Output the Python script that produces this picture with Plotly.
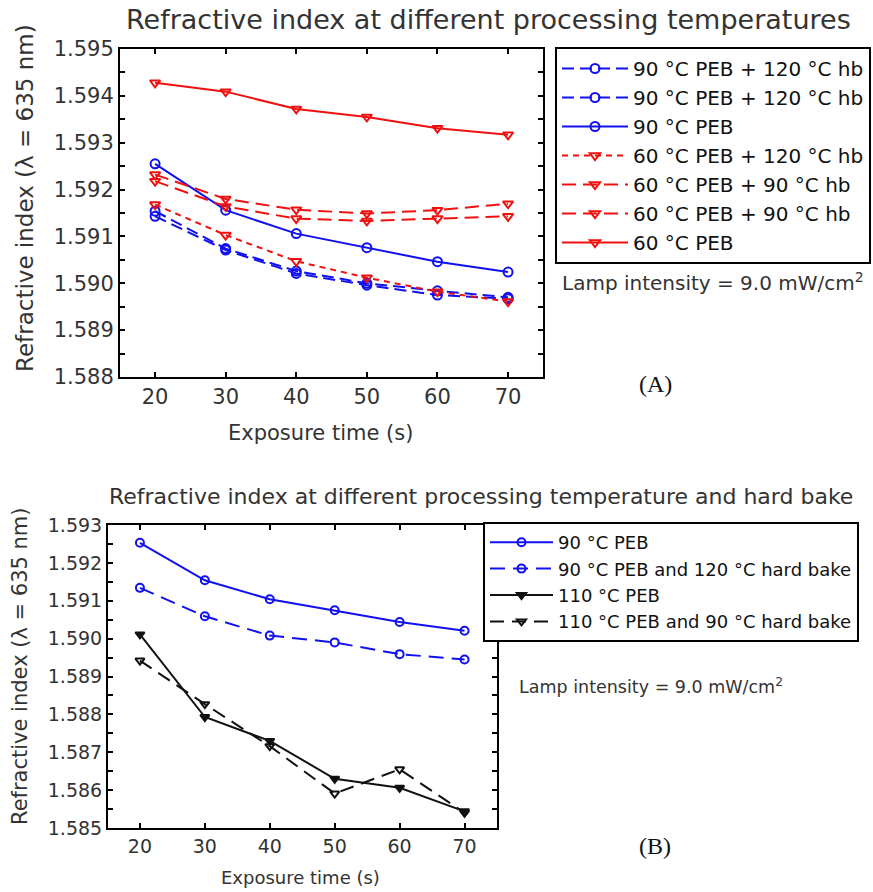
import plotly.graph_objects as go

W, H = 873, 892
FONT = "DejaVu Sans"

# ---------------- data ----------------
exposure = [20, 30, 40, 50, 60, 70]

# Panel A
a_90_120hb_1 = [1.59154, 1.59074, 1.59026, 1.59000, 1.58984, 1.58970]
a_90_120hb_2 = [1.59143, 1.59071, 1.59021, 1.58996, 1.58975, 1.58967]
a_90_peb = [1.59255, 1.59156, 1.59106, 1.59076, 1.59046, 1.59024]
a_60_120hb = [1.59168, 1.59103, 1.59047, 1.59012, 1.58982, 1.58961]
a_60_90hb_1 = [1.59232, 1.59180, 1.59157, 1.59149, 1.59156, 1.59170]
a_60_90hb_2 = [1.59218, 1.59164, 1.59138, 1.59133, 1.59138, 1.59143]
a_60_peb = [1.59428, 1.59409, 1.59372, 1.59355, 1.59331, 1.59317]

# Panel B
b_90_peb = [1.59253, 1.59154, 1.59104, 1.59075, 1.59044, 1.59021]
b_90_120hb = [1.59134, 1.59059, 1.59008, 1.58990, 1.58959, 1.58945]
b_110_peb = [1.59011, 1.58793, 1.58730, 1.58630, 1.58606, 1.58544]
b_110_90hb = [1.58942, 1.58827, 1.58716, 1.58591, 1.58655, 1.58540]

a_ticks = [1.588, 1.589, 1.590, 1.591, 1.592, 1.593, 1.594, 1.595]
b_ticks = [1.585, 1.586, 1.587, 1.588, 1.589, 1.590, 1.591, 1.592, 1.593]
x_ticks = [20, 30, 40, 50, 60, 70]

BLUE = "#1010f0"
RED = "#f01010"
BLACK = "#111111"


def px(x):
    return x / W


def py(y):
    return 1 - y / H


fig = go.Figure()

series_a = [
    ("90 °C PEB + 120 °C hb", a_90_120hb_1, BLUE, "12px,6px", "circle-open"),
    ("90 °C PEB + 120 °C hb", a_90_120hb_2, BLUE, "12px,6px", "circle-open"),
    ("90 °C PEB", a_90_peb, BLUE, "solid", "circle-open"),
    ("60 °C PEB + 120 °C hb", a_60_120hb, RED, "6px,5px", "triangle-down-open"),
    ("60 °C PEB + 90 °C hb", a_60_90hb_1, RED, "14px,7px", "triangle-down-open"),
    ("60 °C PEB + 90 °C hb", a_60_90hb_2, RED, "14px,7px", "triangle-down-open"),
    ("60 °C PEB", a_60_peb, RED, "solid", "triangle-down-open"),
]
for name, vals, col, dash, sym in series_a:
    fig.add_trace(go.Scatter(
        x=exposure, y=vals, name=name, mode="lines+markers",
        line=dict(color=col, width=2, dash=dash),
        marker=dict(symbol=sym, size=9, color=col, line=dict(width=2, color=col)),
        xaxis="x", yaxis="y", legend="legend"))

series_b = [
    ("90 °C PEB", b_90_peb, BLUE, "solid", "circle-open"),
    ("90 °C PEB and 120 °C hard bake", b_90_120hb, BLUE, "15px,8px", "circle-open"),
    ("110 °C PEB", b_110_peb, BLACK, "solid", "triangle-down"),
    ("110 °C PEB and 90 °C hard bake", b_110_90hb, BLACK, "14px,8px", "triangle-down-open"),
]
for name, vals, col, dash, sym in series_b:
    fig.add_trace(go.Scatter(
        x=exposure, y=vals, name=name, mode="lines+markers",
        line=dict(color=col, width=2, dash=dash),
        marker=dict(symbol=sym, size=8, color=col, line=dict(width=2, color=col)),
        xaxis="x2", yaxis="y2", legend="legend2"))

axis_common = dict(
    showline=True, linecolor="black", linewidth=2, mirror="allticks",
    ticks="inside", ticklen=5, tickwidth=1.5, tickcolor="black",
    showgrid=False, zeroline=False, automargin=False,
)

fig.update_layout(
    template="none",
    width=W, height=H, autosize=False,
    margin=dict(l=0, r=0, t=0, b=0, pad=0, autoexpand=False),
    paper_bgcolor="white", plot_bgcolor="white",
    font=dict(family=FONT, color="#333333"),
    xaxis=dict(domain=[px(120), px(543)], range=[15.03, 74.95],
               tickvals=x_ticks, tickfont=dict(size=21), anchor="y", **axis_common),
    yaxis=dict(domain=[py(377), py(49)], range=[1.588, 1.595],
               tickvals=a_ticks, ticktext=[f"{v:.3f}" for v in a_ticks],
               tickfont=dict(size=21), anchor="x",
               minor=dict(dtick=0.0005, ticks="inside", ticklen=5, tickcolor="black"),
               **axis_common),
    xaxis2=dict(domain=[px(108), px(497)], range=[15.08, 75.0],
                tickvals=x_ticks, tickfont=dict(size=19), anchor="y2", **axis_common),
    yaxis2=dict(domain=[py(828), py(525)], range=[1.585, 1.593],
                tickvals=b_ticks, ticktext=[f"{v:.3f}" for v in b_ticks],
                tickfont=dict(size=19), anchor="x2",
                minor=dict(dtick=0.0005, ticks="inside", ticklen=5, tickcolor="black"),
                **axis_common),
    legend=dict(x=px(555), y=py(47), xanchor="left", yanchor="top",
                bordercolor="black", borderwidth=2, bgcolor="white",
                font=dict(size=20, color="#111111"), itemwidth=66,
                tracegroupgap=0, traceorder="normal"),
    legend2=dict(x=px(483), y=py(522), xanchor="left", yanchor="top",
                 bordercolor="black", borderwidth=2, bgcolor="white",
                 font=dict(size=18, color="#111111"), itemwidth=63,
                 tracegroupgap=0, traceorder="normal"),
    showlegend=True,
)

ann = [
    dict(text="Refractive index at different processing temperatures",
         x=px(488), y=py(20), size=27),
    dict(text="Refractive index (λ = 635 nm)", x=px(25), y=py(198), size=23, angle=-90),
    dict(text="Exposure time (s)", x=px(320), y=py(433), size=21),
    dict(text="Lamp intensity = 9.0 mW/cm<sup>2</sup>", x=px(713), y=py(282), size=20),
    dict(text="Refractive index (λ = 635 nm)", x=px(20), y=py(666), size=21, angle=-90),
    dict(text="Exposure time (s)", x=px(300), y=py(877), size=18),
    dict(text="Lamp intensity = 9.0 mW/cm<sup>2</sup>", x=px(651), y=py(686), size=17.5),
]
for a in ann:
    fig.add_annotation(text=a["text"], x=a["x"], y=a["y"], xref="paper", yref="paper",
                       showarrow=False, textangle=a.get("angle", 0),
                       xanchor="center", yanchor="middle",
                       font=dict(family=FONT, size=a["size"], color="#333333"))

fig.add_annotation(text="Refractive index at different processing temperature and hard bake",
                   x=px(107), y=py(496), xref="paper", yref="paper", showarrow=False,
                   xanchor="left", yanchor="middle",
                   font=dict(family=FONT, size=22, color="#333333"))

for lab, yy in (("(A)", 384), ("(B)", 846)):
    fig.add_annotation(text=lab, x=px(655), y=py(yy), xref="paper", yref="paper",
                       showarrow=False, xanchor="center", yanchor="middle",
                       font=dict(family="Liberation Serif", size=24, color="#111111"))

fig.write_html("out.html")
